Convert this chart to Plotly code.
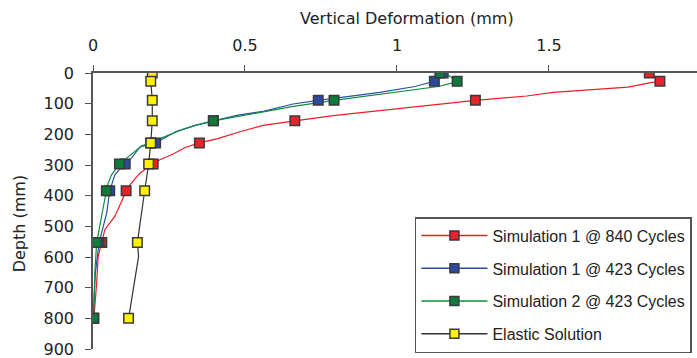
import plotly.graph_objects as go

# ---------------- data ----------------
marker_depth = [0, 27, 89, 156, 228, 297, 384, 553, 800]
sim1_840_markers = [1.83, 1.865, 1.258, 0.664, 0.35, 0.198, 0.109, 0.029, 0.003]
sim1_423_markers = [1.152, 1.123, 0.741, 0.396, 0.206, 0.106, 0.055, 0.02, 0.0]
sim2_423_markers = [1.141, 1.198, 0.793, 0.396, 0.19, 0.087, 0.044, 0.012, 0.002]
elastic_markers = [0.195, 0.19, 0.195, 0.195, 0.19, 0.183, 0.17, 0.146, 0.117]

sim1_840_depth = [0, 27, 32, 46, 63, 75, 89, 100, 104, 130, 139, 156, 171, 190, 215, 228,
                  243, 264, 283, 297, 326, 364, 384, 419, 467, 511, 553, 598, 685, 800]
sim1_840_x = [1.83, 1.865, 1.83, 1.76, 1.514, 1.427, 1.258, 1.156, 1.098, 0.878, 0.79, 0.664,
              0.56, 0.489, 0.407, 0.35, 0.303, 0.264, 0.22, 0.198, 0.155, 0.122, 0.109, 0.094,
              0.072, 0.039, 0.029, 0.017, 0.012, 0.003]

sim1_423_depth = [0, 10, 27, 44, 63, 72, 89, 101, 125, 138, 156, 171, 190, 214, 228, 241,
                  277, 297, 306, 332, 364, 384, 457, 522, 553, 650, 800]
sim1_423_x = [1.152, 1.155, 1.123, 1.059, 0.944, 0.87, 0.741, 0.658, 0.56, 0.473, 0.396, 0.336,
              0.275, 0.232, 0.206, 0.155, 0.127, 0.106, 0.094, 0.072, 0.061, 0.055, 0.045,
              0.029, 0.02, 0.008, 0.0]

sim2_423_depth = [0, 8, 27, 33, 44, 68, 89, 109, 127, 139, 156, 171, 190, 214, 228, 237,
                  277, 297, 332, 359, 384, 500, 553, 650, 800]
sim2_423_x = [1.141, 1.17, 1.198, 1.18, 1.136, 0.944, 0.793, 0.659, 0.56, 0.484, 0.396, 0.336,
              0.28, 0.22, 0.19, 0.16, 0.111, 0.087, 0.061, 0.05, 0.044, 0.023, 0.012, 0.006, 0.002]

elastic_depth = [0, 27, 89, 156, 228, 297, 384, 553, 598, 668, 761, 800]
elastic_x = [0.195, 0.19, 0.195, 0.195, 0.19, 0.183, 0.17, 0.146, 0.150, 0.138, 0.124, 0.117]

x_tickvals = [0, 0.5, 1, 1.5, 2]
x_ticktext = ["0", "0.5", "1", "1.5", "2"]
y_tickvals = [0, 100, 200, 300, 400, 500, 600, 700, 800, 900]

x_title = "Vertical Deformation (mm)"
y_title = "Depth (mm)"

series = [
    ("Simulation 1 @ 840 Cycles", sim1_840_x, sim1_840_depth, sim1_840_markers, "#ee1c25", "#e8232b"),
    ("Simulation 1 @ 423 Cycles", sim1_423_x, sim1_423_depth, sim1_423_markers, "#2c4ea3", "#2c4b9e"),
    ("Simulation 2 @ 423 Cycles", sim2_423_x, sim2_423_depth, sim2_423_markers, "#0f8c40", "#0e7a3b"),
    ("Elastic Solution", elastic_x, elastic_depth, elastic_markers, "#333333", "#fff200"),
]

AXFONT = "DejaVu Sans, Verdana, sans-serif"
LEGFONT = "Liberation Sans, Arial, Helvetica, sans-serif"
TXT = "#222222"
MARKER_LINE = dict(color="#3a3a3a", width=1.5)

fig = go.Figure()

# lines first
for name, lx, ly, mx, lc, mc in series:
    fig.add_trace(go.Scatter(x=lx, y=ly, mode="lines", line=dict(color=lc, width=1.2),
                             showlegend=False, hoverinfo="skip"))
# markers on top
for name, lx, ly, mx, lc, mc in series:
    fig.add_trace(go.Scatter(x=mx, y=marker_depth, mode="markers",
                             marker=dict(symbol="square", size=9.5, color=mc, line=MARKER_LINE),
                             showlegend=False, name=name))
# legend entries
for i, (name, lx, ly, mx, lc, mc) in enumerate(series):
    fig.add_trace(go.Scatter(x=[None], y=[None], mode="lines+markers", name=name,
                             legendgroup="g%d" % i,
                             line=dict(color=lc, width=1.5),
                             marker=dict(symbol="square", size=9, color=mc, line=MARKER_LINE)))

fig.update_layout(
    width=697, height=358,
    margin=dict(l=93, r=0, t=73, b=9),
    paper_bgcolor="white", plot_bgcolor="white",
    font=dict(family=AXFONT, size=16, color=TXT),
    showlegend=True,
    legend=dict(
        x=0.533, y=0.478, xanchor="left", yanchor="top",
        bgcolor="white", bordercolor="#555555", borderwidth=1.5,
        font=dict(family=LEGFONT, size=16, color=TXT),
        traceorder="grouped", tracegroupgap=9, itemwidth=66,
    ),
    xaxis=dict(
        side="top", range=[0, 1.987], tickvals=x_tickvals, ticktext=x_ticktext,
        ticks="outside", ticklen=6, tickcolor="#555555", tickwidth=1.2,
        showline=True, linecolor="#555555", linewidth=1.5,
        showgrid=False, zeroline=False, ticklabelstandoff=8,
        ticklabeloverflow="allow",
        tickfont=dict(family=AXFONT, size=16, color=TXT),
    ),
    yaxis=dict(
        range=[900, 0], tickvals=y_tickvals,
        ticks="outside", ticklen=6, tickcolor="#555555", tickwidth=1.2,
        showline=True, linecolor="#555555", linewidth=1.5,
        showgrid=False, zeroline=False, ticklabelstandoff=8,
        ticklabeloverflow="allow",
        tickfont=dict(family=AXFONT, size=16, color=TXT),
    ),
    annotations=[
        dict(text=x_title, xref="paper", yref="paper", x=0.5199, y=1.196,
             xanchor="center", yanchor="middle", showarrow=False,
             font=dict(size=16, family=AXFONT, color=TXT)),
        dict(text=y_title, textangle=-90, xref="paper", yref="paper",
             x=-0.121, y=0.455, xanchor="center", yanchor="middle",
             showarrow=False, font=dict(size=16, family=AXFONT, color=TXT)),
    ],
)

fig.write_html("out.html", config={"displayModeBar": False},
               post_script="document.body.style.margin='0px';")
